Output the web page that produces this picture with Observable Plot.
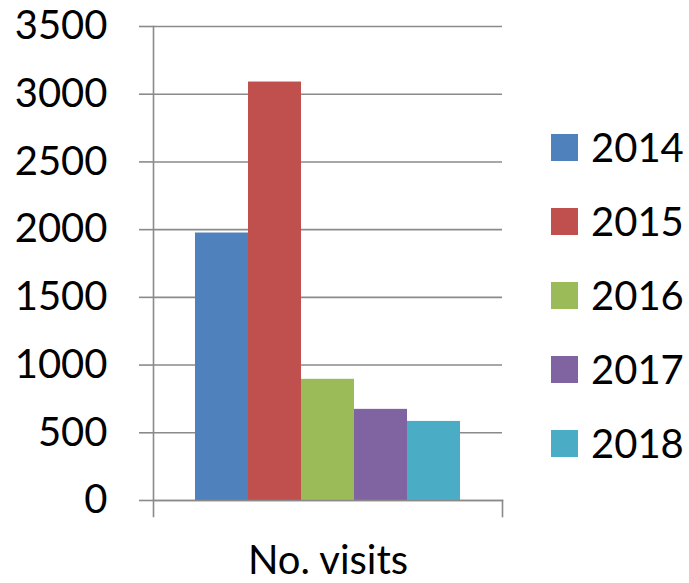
<!DOCTYPE html>
<html>
<head>
<meta charset="utf-8">
<script src="https://cdn.jsdelivr.net/npm/d3@7"></script>
<script src="https://cdn.jsdelivr.net/npm/@observablehq/plot@0.6"></script>
<style>
  html, body { margin: 0; padding: 0; background: #fff; }
  #wrap { position: relative; width: 689px; height: 583px; font-family: Lato, "Open Sans", sans-serif; }
  #legend { position: absolute; left: 551px; top: 110px; }
  .row { display: flex; align-items: center; height: 74px; font-size: 40px; line-height: 1; color: #000; }
  .sw { width: 27px; height: 27px; margin-right: 13px; flex: none; }
</style>
</head>
<body>
<div id="wrap"></div>
<script>
const category = "No. visits";
const years = ["2014", "2015", "2016", "2017", "2018"];
const visits = [1975, 3090, 895, 673, 584];
const colors = ["#4F81BD", "#C0504D", "#9BBB59", "#8064A2", "#4BACC6"];
const yTicks = [0, 500, 1000, 1500, 2000, 2500, 3000, 3500];

const data = years.map((y, i) => ({category, year: y, value: visits[i]}));
const gray = "#8a8a8a";

const chart = Plot.plot({
  width: 689,
  height: 583,
  marginLeft: 153,
  marginRight: 187,
  marginTop: 26,
  marginBottom: 83,
  style: {fontFamily: "Lato, Open Sans, sans-serif", fontSize: "40px", color: "#000", background: "#fff", overflow: "visible"},
  fx: {domain: [category], padding: 0},
  x: {domain: years, paddingInner: 0, paddingOuter: 0.74, axis: null},
  y: {domain: [0, 3500], ticks: yTicks},
  color: {domain: years, range: colors},
  marks: [
    Plot.gridY(yTicks, {stroke: gray, strokeOpacity: 1, strokeWidth: 1.6}),
    Plot.barY(data, {fx: "category", x: "year", y: "value", fill: "year"}),
    Plot.frame({anchor: "left", stroke: gray, strokeWidth: 1.6, insetBottom: -16}),
    Plot.frame({anchor: "bottom", stroke: gray, strokeWidth: 1.6}),
    Plot.frame({anchor: "right", stroke: gray, strokeWidth: 1.6, insetTop: 474, insetBottom: -16}),
    Plot.axisY(yTicks, {tickSize: 14, tickPadding: 32, stroke: gray, strokeWidth: 1.6, fontSize: 40, fill: "#000", label: null, tickFormat: d => String(d)}),
    Plot.axisFx({anchor: "bottom", tickSize: 0, tickPadding: 45, fontSize: 40, fill: "#000", label: null})
  ]
});

const wrap = document.getElementById("wrap");
wrap.appendChild(chart);

const legend = document.createElement("div");
legend.id = "legend";
years.forEach((y, i) => {
  const row = document.createElement("div");
  row.className = "row";
  const sw = document.createElement("div");
  sw.className = "sw";
  sw.style.background = colors[i];
  const lab = document.createElement("span");
  lab.textContent = y;
  row.appendChild(sw);
  row.appendChild(lab);
  legend.appendChild(row);
});
wrap.appendChild(legend);
</script>
</body>
</html>
